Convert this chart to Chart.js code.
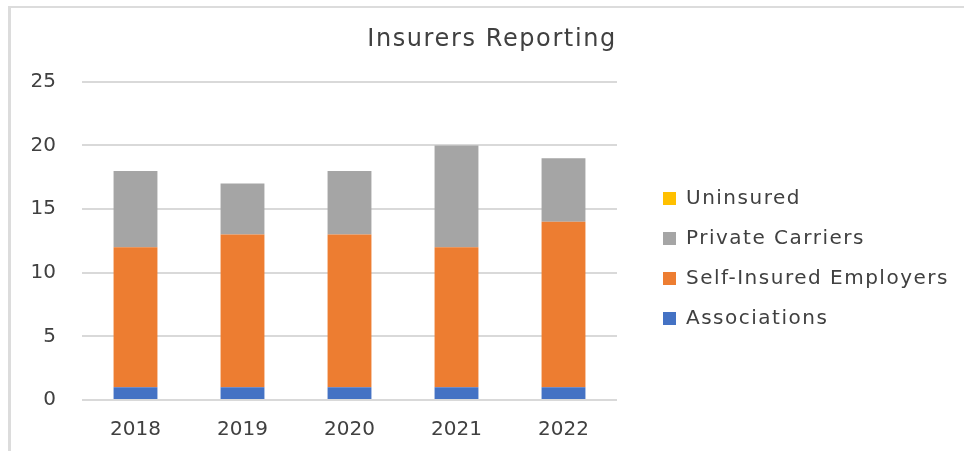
<!DOCTYPE html>
<html>
<head>
<meta charset="utf-8">
<script src="https://cdn.jsdelivr.net/npm/chart.js@4.4.1/dist/chart.umd.min.js"></script>
<style>
  html, body { margin: 0; padding: 0; background: #ffffff; overflow: hidden; }
  #wrap { position: relative; width: 964px; height: 451px; overflow: hidden; }
  #frame { position: absolute; left: 8px; top: 6px; width: 1000px; height: 500px;
           border-left: 3px solid #dcdcdc; border-top: 2px solid #dcdcdc; box-sizing: border-box; }
  canvas { position: absolute; left: 0; top: 0; }
</style>
</head>
<body>
<div id="wrap">
  <div id="frame"></div>
  <canvas id="c" width="964" height="451"></canvas>
</div>
<script>
const categories = ["2018", "2019", "2020", "2021", "2022"];
const associations = [1, 1, 1, 1, 1];
const selfInsured = [11, 12, 12, 11, 13];
const privateCarriers = [6, 4, 5, 8, 5];
const uninsured = [0, 0, 0, 0, 0];
const yTicks = [0, 5, 10, 15, 20, 25];
const chartTitle = "Insurers Reporting";

const FONT = "'DejaVu Sans', sans-serif";
const TEXT = "#404040";

function withSpacing(box, spacing) {
  const d = box.draw.bind(box);
  box.draw = function (area) {
    const ctx = this.ctx;
    const has = 'letterSpacing' in ctx;
    const old = has ? ctx.letterSpacing : null;
    if (has) ctx.letterSpacing = spacing;
    d(area);
    if (has) ctx.letterSpacing = old;
  };
}

const layoutFix = {
  id: 'layoutFix',
  afterInit(chart) {
    const lg = chart.legend;
    const f = lg.fit.bind(lg);
    lg.fit = function () { f(); this.width = 347; };
    withSpacing(lg, '1.5px');
    withSpacing(chart.titleBlock, '1.6px');
  },
  afterLayout(chart) {
    const lg = chart.legend;
    const pad = lg.options.labels.padding;
    const dx = (663 - pad) - lg.left;
    lg.left += dx; lg.right += dx;
    lg.top += 33; lg.bottom += 33;
    const t = chart.titleBlock;
    t.left += 10; t.right += 10;
  }
};

new Chart(document.getElementById('c'), {
  type: 'bar',
  data: {
    labels: categories,
    datasets: [
      { label: 'Associations', data: associations, backgroundColor: '#4472C4' },
      { label: 'Self-Insured Employers', data: selfInsured, backgroundColor: '#ED7D31' },
      { label: 'Private Carriers', data: privateCarriers, backgroundColor: '#A5A5A5' },
      { label: 'Uninsured', data: uninsured, backgroundColor: '#FFC000' }
    ]
  },
  options: {
    responsive: false,
    devicePixelRatio: 1,
    animation: false,
    layout: { padding: { left: 0, right: 0, top: 0, bottom: 0 } },
    datasets: { bar: { barPercentage: 0.41, categoryPercentage: 1.0 } },
    plugins: {
      tooltip: { enabled: false },
      title: {
        display: true,
        text: chartTitle,
        color: TEXT,
        font: { family: FONT, size: 24, weight: 'normal' },
        padding: { top: 25, bottom: 28 }
      },
      legend: {
        position: 'right',
        reverse: true,
        labels: {
          boxWidth: 13,
          boxHeight: 13,
          padding: 20,
          color: TEXT,
          font: { family: FONT, size: 20 }
        }
      }
    },
    scales: {
      x: {
        stacked: true,
        grid: { display: false, drawTicks: false },
        border: { display: false },
        ticks: { color: TEXT, font: { family: FONT, size: 20 }, padding: 18 },
        afterFit(s) { s.height = 51; }
      },
      y: {
        stacked: true,
        min: 0,
        max: 25,
        afterBuildTicks(s) { s.ticks = yTicks.map(v => ({ value: v })); },
        grid: { color: '#d9d9d9', lineWidth: 2, drawTicks: false },
        border: { display: false },
        ticks: { color: TEXT, font: { family: FONT, size: 20 }, padding: 26 },
        afterFit(s) { s.width = 82; }
      }
    }
  },
  plugins: [layoutFix]
});
</script>
</body>
</html>
